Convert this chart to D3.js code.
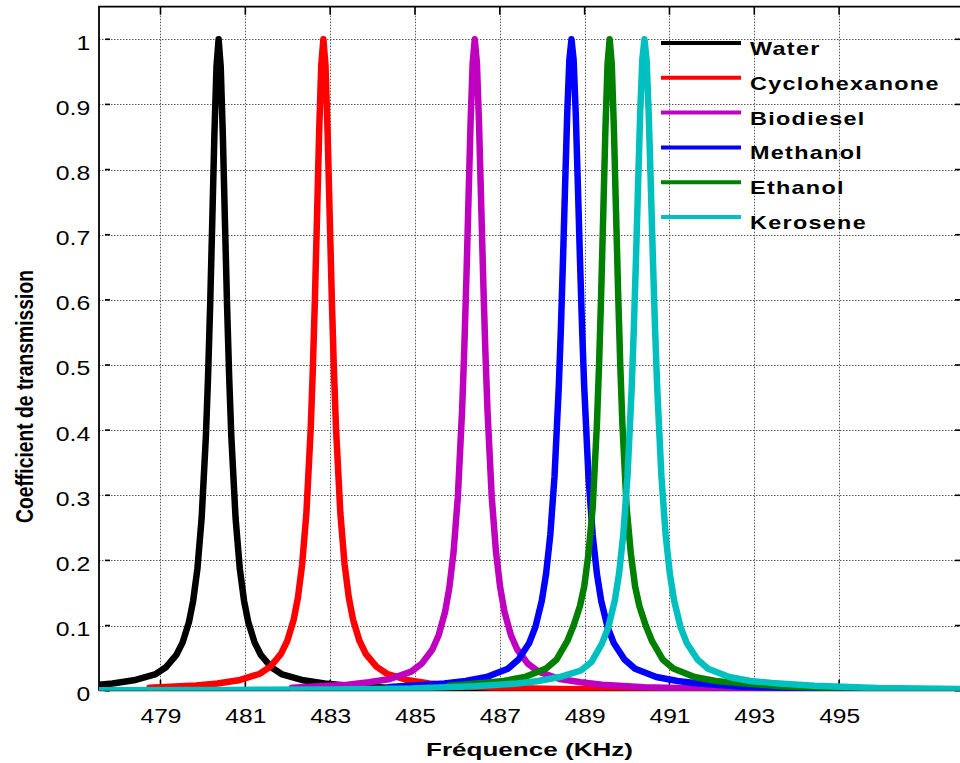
<!DOCTYPE html>
<html>
<head>
<meta charset="utf-8">
<script src="https://cdn.jsdelivr.net/npm/d3@7/dist/d3.min.js"></script>
<style>
  html, body { margin: 0; padding: 0; background: #ffffff; }
  svg { display: block; }
  text { font-family: "Liberation Sans", Arial, sans-serif; }
</style>
</head>
<body>
<svg id="chart" width="960" height="763"></svg>
<script>
// ---------------- data ----------------
const seriesNames = ["Water", "Cyclohexanone", "Biodiesel", "Methanol", "Ethanol", "Kerosene"];
const seriesColors = ["#000000", "#ff0000", "#bf00bf", "#0000ff", "#008000", "#00bfbf"];

const xTicks = [479, 481, 483, 485, 487, 489, 491, 493, 495];
const yTicks = [0, 0.1, 0.2, 0.3, 0.4, 0.5, 0.6, 0.7, 0.8, 0.9, 1];
const yTickLabels = ["0", "0.1", "0.2", "0.3", "0.4", "0.5", "0.6", "0.7", "0.8", "0.9", "1"];

const waterFreq = [477.37, 477.87, 478.37, 478.87, 479.12, 479.37, 479.52, 479.67, 479.77, 479.87, 479.97, 480.07, 480.12, 480.17, 480.22, 480.27, 480.32,
  480.37,
  480.42, 480.47, 480.52, 480.57, 480.62, 480.67, 480.77, 480.87, 480.97, 481.07, 481.22, 481.37, 481.62, 481.87, 482.37, 482.87, 483.37, 484.37, 485.87, 487.87, 490.37, 493.37, 498.37];
const waterT = [0.008, 0.011, 0.016, 0.025, 0.0355, 0.0545, 0.0738, 0.105, 0.138, 0.187, 0.265, 0.390, 0.480, 0.590, 0.719, 0.852, 0.958,
  1,
  0.958, 0.852, 0.719, 0.590, 0.480, 0.390, 0.265, 0.187, 0.138, 0.105, 0.0738, 0.0545, 0.0355, 0.025, 0.016, 0.011, 0.008, 0.0045, 0.0025, 0.0014, 0.0008, 0.0005, 0.0003];

const cycloFreq = [478.74, 479.84, 480.34, 480.84, 481.34, 481.59, 481.84, 481.99, 482.14, 482.24, 482.34, 482.44, 482.54, 482.59, 482.64, 482.69, 482.74, 482.79,
  482.84,
  482.89, 482.94, 482.99, 483.04, 483.09, 483.14, 483.24, 483.34, 483.44, 483.54, 483.69, 483.84, 484.09, 484.34, 484.84, 485.34, 485.84, 486.84, 488.34, 490.34, 492.84, 495.84, 498.5];
const cycloT = [0.0045, 0.008, 0.011, 0.016, 0.026, 0.037, 0.0566, 0.0767, 0.109, 0.143, 0.194, 0.273, 0.400, 0.490, 0.600, 0.727, 0.857, 0.960,
  1,
  0.960, 0.857, 0.727, 0.600, 0.490, 0.400, 0.273, 0.194, 0.143, 0.109, 0.0767, 0.0566, 0.037, 0.026, 0.016, 0.011, 0.008, 0.0046, 0.0026, 0.0014, 0.0008, 0.0005, 0.0004];

const biodieselFreq = [482.10, 483.41, 483.91, 484.41, 484.91, 485.16, 485.41, 485.56, 485.71, 485.81, 485.91, 486.01, 486.11, 486.16, 486.21, 486.26, 486.31, 486.36,
  486.41,
  486.46, 486.51, 486.56, 486.61, 486.66, 486.71, 486.81, 486.91, 487.01, 487.11, 487.26, 487.41, 487.66, 487.91, 488.41, 488.91, 489.41, 490.41, 491.91, 493.91, 496.41, 498.5];
const biodieselT = [0.0047, 0.009, 0.013, 0.018, 0.0292, 0.0415, 0.0633, 0.0856, 0.121, 0.158, 0.213, 0.297, 0.429, 0.520, 0.628, 0.750, 0.871, 0.964,
  1,
  0.964, 0.871, 0.750, 0.628, 0.520, 0.429, 0.297, 0.213, 0.158, 0.121, 0.0856, 0.0633, 0.0415, 0.0292, 0.018, 0.013, 0.009, 0.0052, 0.003, 0.0016, 0.0009, 0.0006];

const methanolFreq = [484.40, 485.69, 486.19, 486.69, 487.19, 487.44, 487.69, 487.84, 487.99, 488.09, 488.19, 488.29, 488.39, 488.44, 488.49, 488.54, 488.59, 488.64,
  488.69,
  488.74, 488.79, 488.84, 488.89, 488.94, 488.99, 489.09, 489.19, 489.29, 489.39, 489.54, 489.69, 489.94, 490.19, 490.69, 491.19, 491.69, 492.69, 494.19, 496.19, 498.5];
const methanolT = [0.0056, 0.011, 0.015, 0.021, 0.0337, 0.0478, 0.0727, 0.0979, 0.138, 0.179, 0.239, 0.329, 0.466, 0.556, 0.662, 0.777, 0.887, 0.969,
  1,
  0.969, 0.887, 0.777, 0.662, 0.556, 0.466, 0.329, 0.239, 0.179, 0.138, 0.0979, 0.0727, 0.0478, 0.0337, 0.021, 0.015, 0.011, 0.006, 0.0034, 0.0019, 0.0011];

const ethanolFreq = [485.80, 486.59, 487.09, 487.59, 488.09, 488.34, 488.59, 488.74, 488.89, 488.99, 489.09, 489.19, 489.29, 489.34, 489.39, 489.44, 489.49, 489.54,
  489.59,
  489.64, 489.69, 489.74, 489.79, 489.84, 489.89, 489.99, 490.09, 490.19, 490.29, 490.44, 490.59, 490.84, 491.09, 491.59, 492.09, 492.59, 493.59, 495.09, 497.09, 498.5];
const ethanolT = [0.0075, 0.012, 0.015, 0.021, 0.034, 0.048, 0.076, 0.100, 0.130, 0.160, 0.210, 0.281, 0.410, 0.500, 0.610, 0.735, 0.862, 0.962,
  1,
  0.962, 0.862, 0.735, 0.610, 0.500, 0.410, 0.281, 0.210, 0.160, 0.130, 0.100, 0.076, 0.048, 0.034, 0.021, 0.015, 0.012, 0.007, 0.0036, 0.002, 0.0015];

const keroseneFreq = [477.00, 480.41, 482.91, 484.91, 486.41, 487.41, 487.91, 488.41, 488.91, 489.16, 489.41, 489.56, 489.71, 489.81, 489.91, 490.01, 490.11, 490.16, 490.21, 490.26, 490.31, 490.36,
  490.41,
  490.46, 490.51, 490.56, 490.61, 490.66, 490.71, 490.81, 490.91, 491.01, 491.11, 491.26, 491.41, 491.66, 491.91, 492.41, 492.91, 493.41, 494.41, 495.91, 498.5];
const keroseneT = [0.0008, 0.0011, 0.0019, 0.0034, 0.0068, 0.011, 0.015, 0.021, 0.031, 0.044, 0.0727, 0.098, 0.138, 0.179, 0.239, 0.329, 0.466, 0.556, 0.662, 0.777, 0.887, 0.969,
  1,
  0.969, 0.887, 0.777, 0.662, 0.556, 0.466, 0.329, 0.239, 0.179, 0.138, 0.098, 0.0727, 0.0478, 0.0337, 0.021, 0.015, 0.012, 0.0075, 0.004, 0.0022];

const seriesFreq = [waterFreq, cycloFreq, biodieselFreq, methanolFreq, ethanolFreq, keroseneFreq];
const seriesT = [waterT, cycloT, biodieselT, methanolT, ethanolT, keroseneT];

const xLabel = "Fréquence (KHz)";
const yLabel = "Coefficient de transmission";

// ---------------- layout ----------------
const svg = d3.select("#chart");
const L = 99, R = 960, T = 6.7, B = 690.7;

const x = d3.scaleLinear().domain([477.55, 497.85]).range([L, R]);
const y = d3.scaleLinear().domain([0, 1.05]).range([B, T]);

const series = seriesNames.map((name, i) => ({
  name, color: seriesColors[i],
  points: seriesFreq[i].map((f, j) => ({ f, t: seriesT[i][j] }))
}));

svg.append("rect").attr("width", 960).attr("height", 763).attr("fill", "#fff");

svg.append("defs").append("clipPath").attr("id", "plotclip")
  .append("rect").attr("x", L).attr("y", T).attr("width", R - L).attr("height", B - T);

// grid
const gridStyle = g => g.attr("stroke", "#5a5a5a").attr("stroke-width", 1).attr("stroke-dasharray", "1.5,1.5");
svg.append("g").call(gridStyle).selectAll("line").data(xTicks).join("line")
  .attr("x1", d => Math.round(x(d)) + 0.5).attr("x2", d => Math.round(x(d)) + 0.5)
  .attr("y1", T).attr("y2", B);
svg.append("g").call(gridStyle).selectAll("line").data(yTicks.filter(d => d > 0)).join("line")
  .attr("x1", L).attr("x2", R)
  .attr("y1", d => Math.round(y(d)) + 0.5).attr("y2", d => Math.round(y(d)) + 0.5);

// axes box
svg.append("path")
  .attr("d", `M${L},${B}V${T}H${R}`)
  .attr("fill", "none").attr("stroke", "#000").attr("stroke-width", 1.8);
svg.append("line").attr("x1", L).attr("x2", R).attr("y1", B).attr("y2", B)
  .attr("stroke", "#000").attr("stroke-width", 1.2);

// inner tick marks
const tickG = svg.append("g").attr("stroke", "#000").attr("stroke-width", 1.6);
tickG.selectAll(".tt").data(xTicks).join("line").attr("class", "tt")
  .attr("x1", d => x(d)).attr("x2", d => x(d)).attr("y1", T).attr("y2", T + 8);
tickG.selectAll(".tb").data(xTicks).join("line").attr("class", "tb")
  .attr("x1", d => x(d)).attr("x2", d => x(d)).attr("y1", B - 11).attr("y2", B - 3);
tickG.selectAll(".tl").data(yTicks).join("line").attr("class", "tl")
  .attr("x1", L + 6).attr("x2", L + 11).attr("y1", d => y(d)).attr("y2", d => y(d));
tickG.selectAll(".tr").data(yTicks).join("line").attr("class", "tr")
  .attr("x1", R - 5).attr("x2", R).attr("y1", d => y(d)).attr("y2", d => y(d));

// curves
const line = d3.line().x(d => x(d.f)).y(d => y(d.t)).curve(d3.curveLinear);
const plot = svg.append("g").attr("clip-path", "url(#plotclip)");
plot.selectAll("path").data(series).join("path")
  .attr("d", d => line(d.points))
  .attr("fill", "none")
  .attr("stroke", d => d.color)
  .attr("stroke-width", 6.5)
  .attr("stroke-linejoin", "round")
  .attr("stroke-linecap", "round");

// axes labels via d3 axes
const xAxisG = svg.append("g").attr("transform", `translate(0,${B})`)
  .call(d3.axisBottom(x).tickValues(xTicks).tickFormat(d3.format("d")).tickSize(0).tickPadding(0));
xAxisG.select(".domain").remove();
xAxisG.selectAll("text")
  .attr("y", 32.5).attr("dy", 0)
  .attr("font-size", 21).attr("fill", "#000")
  .attr("font-family", "'Liberation Sans', Arial, sans-serif")
  .attr("transform", "scale(1.17,1)");

const yAxisG = svg.append("g").attr("transform", `translate(${L},0)`)
  .call(d3.axisLeft(y).tickValues(yTicks).tickFormat((d, i) => yTickLabels[i]).tickSize(0).tickPadding(0));
yAxisG.select(".domain").remove();
yAxisG.selectAll("text")
  .attr("x", -7.4).attr("dy", 0).attr("y", 10)
  .attr("font-size", 21).attr("fill", "#000")
  .attr("font-family", "'Liberation Sans', Arial, sans-serif")
  .attr("text-anchor", "end")
  .attr("transform", "scale(1.18,1)");

// axis titles
svg.append("text")
  .attr("x", 529.5).attr("y", 756)
  .attr("text-anchor", "middle")
  .attr("font-size", 18).attr("font-weight", "bold")
  .attr("textLength", 207).attr("lengthAdjust", "spacingAndGlyphs")
  .text(xLabel);

svg.append("text")
  .attr("transform", "translate(33,396.5) rotate(-90)")
  .attr("text-anchor", "middle")
  .attr("font-size", 24).attr("font-weight", "bold")
  .attr("textLength", 253).attr("lengthAdjust", "spacingAndGlyphs")
  .text(yLabel);

// legend
const leg = svg.append("g");
const legItems = leg.selectAll("g").data(series).join("g")
  .attr("transform", (d, i) => `translate(0,${43 + i * 34.8})`);
legItems.append("line")
  .attr("x1", 661).attr("x2", 741).attr("y1", 0).attr("y2", 0)
  .attr("stroke", d => d.color).attr("stroke-width", 4);
legItems.append("g").attr("transform", "translate(750,12)")
  .append("text")
  .attr("transform", "scale(1.3,1)")
  .attr("font-size", 18).attr("font-weight", "bold")
  .attr("letter-spacing", 1)
  .text(d => d.name);
</script>
</body>
</html>
